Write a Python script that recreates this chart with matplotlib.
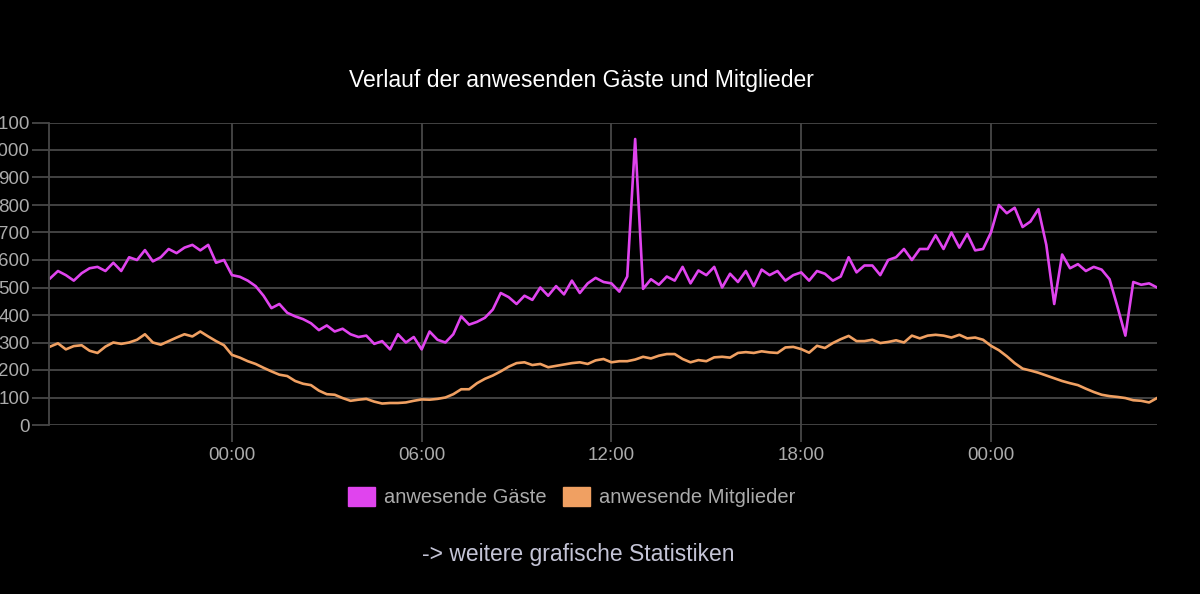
import numpy as np
import pandas as pd
import matplotlib
matplotlib.use("Agg")
import matplotlib.pyplot as plt
import matplotlib.dates as mdates
from matplotlib.patches import Patch

# values, one every 15 minutes starting 18:15
gaeste = [
    533, 560, 545, 525, 552, 570, 575, 560, 590, 560, 610, 600, 636, 595, 610, 640,
    625, 645, 655, 635, 655, 590, 600, 545, 539, 525, 505, 470, 425, 440, 408, 395,
    385, 370, 345, 362, 340, 350, 330, 320, 325, 295, 305, 275, 330, 300, 320, 275,
    340, 310, 300, 330, 395, 365, 375, 390, 420, 480, 465, 440, 470, 455, 500, 470,
    505, 475, 525, 480, 515, 535, 520, 515, 485, 540, 1040, 495, 530, 510, 540, 525,
    575, 515, 562, 545, 575, 500, 550, 520, 560, 505, 565, 545, 560, 525, 545, 555,
    525, 560, 550, 525, 540, 610, 555, 580, 580, 545, 600, 610, 640, 600, 640, 640,
    690, 640, 700, 645, 695, 635, 640, 700, 800, 770, 790, 720, 740, 785, 655, 440,
    620, 570, 585, 560, 575, 565, 530, 430, 325, 520, 510, 515, 500,
]
mitglieder = [
    285, 297, 275, 287, 290, 270, 262, 285, 300, 295, 300, 310, 330, 300, 292, 305,
    318, 330, 322, 340, 322, 305, 290, 255, 245, 232, 222, 208, 195, 183, 178, 160,
    150, 145, 125, 112, 110, 98, 88, 92, 95, 85, 78, 80, 80, 82, 88, 93,
    92, 95, 100, 112, 130, 130, 152, 168, 180, 195, 212, 225, 228, 218, 222, 210,
    215, 220, 225, 228, 222, 235, 240, 228, 232, 232, 238, 248, 242, 252, 258, 258,
    240, 228, 236, 232, 246, 248, 245, 262, 265, 262, 268, 264, 262, 282, 284, 276,
    263, 288, 280, 298, 312, 324, 305, 305, 310, 298, 302, 308, 300, 325, 315, 325,
    328, 325, 318, 328, 315, 318, 310, 288, 272, 250, 225, 205, 198, 190, 180, 170,
    160, 152, 145, 132, 120, 110, 105, 102, 98, 90, 88, 82, 98,
]
zeit = pd.date_range("2023-03-10 18:15", periods=len(gaeste), freq="15min")

y_ticks = list(range(0, 1101, 100))

bg = "#000000"
grid_col = "#474747"
txt_col = "#ababab"
c_gaeste = "#e044ee"
c_mitglieder = "#f0a062"

plt.rcParams["font.family"] = ["Liberation Sans", "DejaVu Sans"]

fig = plt.figure(figsize=(12, 5.94), dpi=100, facecolor=bg)
ax = fig.add_axes([49 / 1200, 1 - 425 / 594, 1108 / 1200, 302.5 / 594])
ax.set_facecolor(bg)

ax.plot(zeit, gaeste, color=c_gaeste, lw=1.9, solid_joinstyle="round")
ax.plot(zeit, mitglieder, color=c_mitglieder, lw=1.9, solid_joinstyle="round")

ax.set_ylim(0, 1100)
ax.set_yticks(y_ticks)
ax.set_xlim(zeit[0] - pd.Timedelta(minutes=2), zeit[-1])
ax.xaxis.set_major_locator(mdates.HourLocator(byhour=[0, 6, 12, 18]))
ax.xaxis.set_major_formatter(mdates.DateFormatter("%H:%M"))

ax.grid(True, color=grid_col, lw=1.3)
for s in ["top", "right", "bottom"]:
    ax.spines[s].set_visible(False)
ax.spines["left"].set_color(grid_col)
ax.spines["left"].set_linewidth(1.3)
ax.tick_params(axis="y", length=12, width=1.3, color=grid_col, labelcolor=txt_col,
               labelsize=13.5, pad=2)
ax.tick_params(axis="x", length=12, width=1.3, color=grid_col, labelcolor=txt_col,
               labelsize=13.5, pad=4)

fig.text(581 / 1200, 1 - 80 / 594, "Verlauf der anwesenden Gäste und Mitglieder",
         color="white", fontsize=16.5, ha="center", va="center")

handles = [Patch(facecolor=c_gaeste, edgecolor=c_gaeste),
           Patch(facecolor=c_mitglieder, edgecolor=c_mitglieder)]
fig.legend(handles, ["anwesende Gäste", "anwesende Mitglieder"], ncol=2,
           loc="center", bbox_to_anchor=(572 / 1200, 1 - 497 / 594),
           frameon=False, fontsize=14.5, labelcolor=txt_col,
           handlelength=1.35, handleheight=1.1, handletextpad=0.45,
           columnspacing=0.8)

fig.text(578 / 1200, 1 - 555 / 594, "-> weitere grafische Statistiken",
         color="#c4c4d6", fontsize=16.5, ha="center", va="center")

fig.savefig("out.png", dpi=100, facecolor=bg)
